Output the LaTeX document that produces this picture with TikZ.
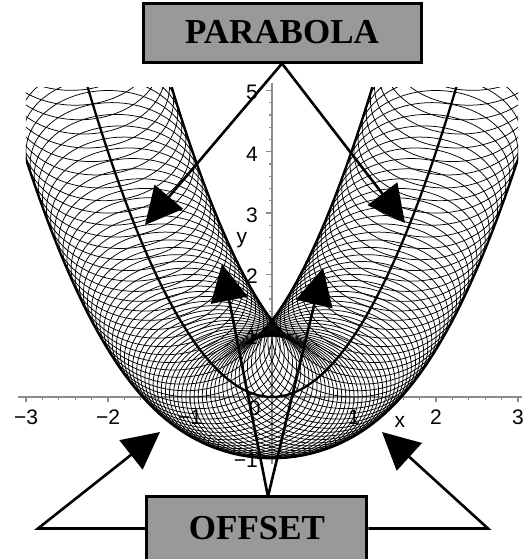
\documentclass[tikz,border=0pt]{standalone}
\usepackage{fontspec}
\setmainfont{Liberation Serif}
\setsansfont{Liberation Sans}
\usetikzlibrary{arrows.meta,positioning,calc}

\begin{document}
\begin{tikzpicture}[x=82pt,y=61.3pt,
  lbl/.style={draw=black,line width=3pt,fill=black!40,inner sep=0pt,
    font=\bfseries\fontsize{35}{40}\selectfont},
  ptr/.style={-{Triangle[length=37pt,width=37pt]},line width=2.6pt},
  ax/.style={black!45,line width=1.2pt},
  num/.style={font=\sffamily\fontsize{21}{24}\selectfont,inner sep=0pt},
  ring/.style={line width=0.75pt},
  curve/.style={line width=2.3pt}]
\useasboundingbox (-272pt,-162pt) rectangle (253pt,397pt);
% axes and ticks
\draw[ax] (-3.1,0) -- (3.05,0);
\draw[ax] (0,-1.1) -- (0,5.12);
\foreach \i in {-15,...,15} \draw[ax] (\i/5,0) -- ++(0,-3pt);
\foreach \i in {-3,...,3} \draw[ax] (\i,0) -- ++(0,-5.5pt);
\foreach \j in {-5,...,25} \draw[ax] (0,\j/5) -- ++(-3pt,0);
\foreach \j in {-1,...,5} \draw[ax] (0,\j) -- ++(-6pt,0);
% circles of radius 1 along y=x^2, envelope and parabola
\begin{scope}
\clip (-3,-1.3) rectangle (3,5.05);
\foreach \k in {-50,...,50} \draw[ring] ({\k/20},{(\k/20)^2}) circle[radius=1];
\draw[curve,domain=-2.3:2.3,samples=120,variable=\t]
  plot ({\t-2*\t/sqrt(1+4*\t*\t)},{\t*\t+1/sqrt(1+4*\t*\t)});
\draw[curve,domain=-2.2:2.2,samples=120,variable=\t]
  plot ({\t+2*\t/sqrt(1+4*\t*\t)},{\t*\t-1/sqrt(1+4*\t*\t)});
\draw[curve,domain=-2.25:2.25,samples=80] plot (\x,{\x*\x});
\end{scope}
% tick labels
\foreach \i/\s in {-3/−3,-2/−2,-1/−1,1/1,2/2,3/3}
  \node[num,anchor=north] (xt\i) at ([yshift=-13pt]\i,0) {\s};
\node[num] (xt0) at (-0.21,-0.18) {0};
\node[num] (xlab) at (1.56,-0.41) {x};
\foreach \j/\s in {-1/−1,1/1,2/2,3/3,4/4,5/5}
  \node[num,anchor=east] (yt\j) at ([xshift=-14pt,yshift=-2pt]0,\j) {\s};
\node[num] (ylab) at (-0.366,2.56) {y};
% labels and pointers
\node[lbl,minimum width=278pt,minimum height=59pt] (parabola) at (0.122,5.946) {PARABOLA};
\node[lbl,minimum width=220pt,minimum height=64pt] (offset) at (-0.183,-2.145) {OFFSET};
\coordinate (pl) at (-1.549,2.806);
\coordinate (pr) at (1.622,2.838);
\coordinate (os) at (-0.049,-1.623);
\coordinate (ol) at (-0.61,2.17);
\coordinate (or) at (0.622,2.104);
\coordinate (kl) at (-2.854,-2.145);
\coordinate (kr) at (2.634,-2.145);
\coordinate (tl) at (-1.366,-0.571);
\coordinate (tr) at (1.341,-0.571);
\foreach \a in {pl,pr} \draw[ptr] (parabola.south) -- (\a);
\foreach \a in {ol,or} \draw[ptr] (os) -- (\a);
\draw[ptr] (offset.west) -- (kl) -- (tl);
\draw[ptr] (offset.east) -- (kr) -- (tr);
\end{tikzpicture}
\end{document}
